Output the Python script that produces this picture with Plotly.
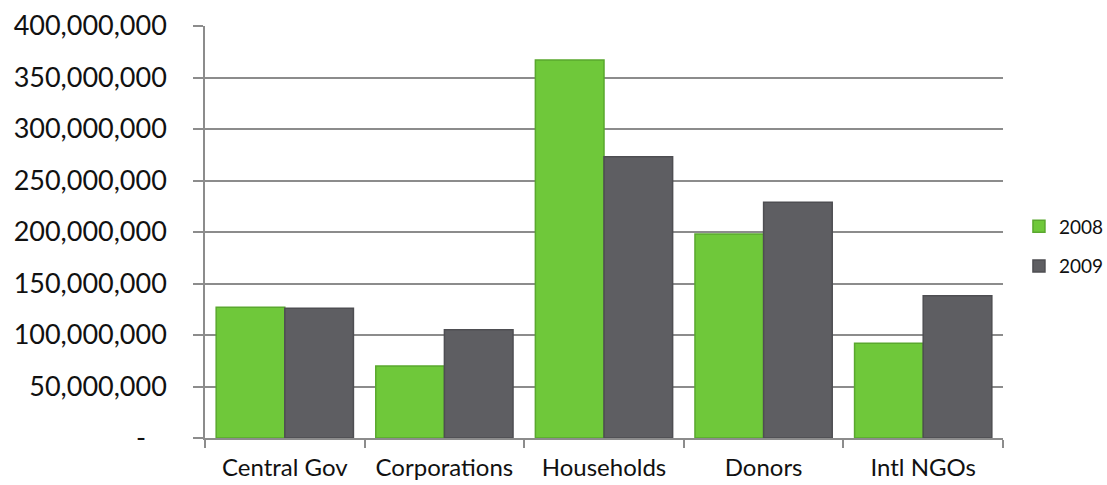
import plotly.graph_objects as go

categories = ["Central Gov", "Corporations", "Households", "Donors", "Intl NGOs"]
values_2008 = [127_000_000, 70_000_000, 367_000_000, 198_000_000, 92_000_000]
values_2009 = [126_000_000, 105_000_000, 273_000_000, 229_000_000, 138_000_000]
y_ticks = [0, 50_000_000, 100_000_000, 150_000_000, 200_000_000,
           250_000_000, 300_000_000, 350_000_000, 400_000_000]
y_tick_text = ["-\u00a0\u00a0\u00a0"] + [f"{v:,}" for v in y_ticks[1:]]

FONT = "Lato, 'Open Sans', sans-serif"
GRID = "#8c8c8c"

fig = go.Figure()
fig.add_trace(go.Bar(
    x=categories, y=values_2008, name="2008", legendgroup="a",
    marker=dict(color="#6fc83a", line=dict(color="#5aa82e", width=1.5)),
))
fig.add_trace(go.Bar(
    x=categories, y=values_2009, name="2009", legendgroup="b",
    marker=dict(color="#5e5e62", line=dict(color="#4e4e52", width=1.5)),
))

fig.update_layout(
    width=1107, height=485,
    margin=dict(l=205, r=104, t=26, b=47, autoexpand=False),
    paper_bgcolor="white", plot_bgcolor="white",
    barmode="group", bargap=0.14, bargroupgap=0,
    font=dict(family=FONT, color="#111111"),
    legend=dict(
        x=1.02, y=0.465, xanchor="left", yanchor="middle",
        font=dict(size=19, family=FONT, color="#111111"),
        itemwidth=30, traceorder="grouped", tracegroupgap=12,
        bgcolor="rgba(0,0,0,0)",
    ),
    showlegend=True,
)

fig.update_xaxes(
    automargin=False,
    showgrid=False, showline=True, linecolor=GRID, linewidth=1.5,
    ticks="outside", tickson="boundaries", ticklen=8, tickcolor=GRID, tickwidth=1.5,
    ticklabelstandoff=7,
    tickfont=dict(size=24, family=FONT, color="#111111"),
)
fig.update_yaxes(
    automargin=False,
    range=[0, 400_000_000], tickvals=y_ticks, ticktext=y_tick_text,
    showgrid=True, gridcolor=GRID, gridwidth=1.5,
    showline=True, linecolor=GRID, linewidth=1.5,
    ticks="outside", ticklen=10, tickcolor=GRID, tickwidth=1.5,
    ticklabelstandoff=21,
    tickfont=dict(size=27, family=FONT, color="#111111"),
    zeroline=False,
)

fig.write_html("out.html")
